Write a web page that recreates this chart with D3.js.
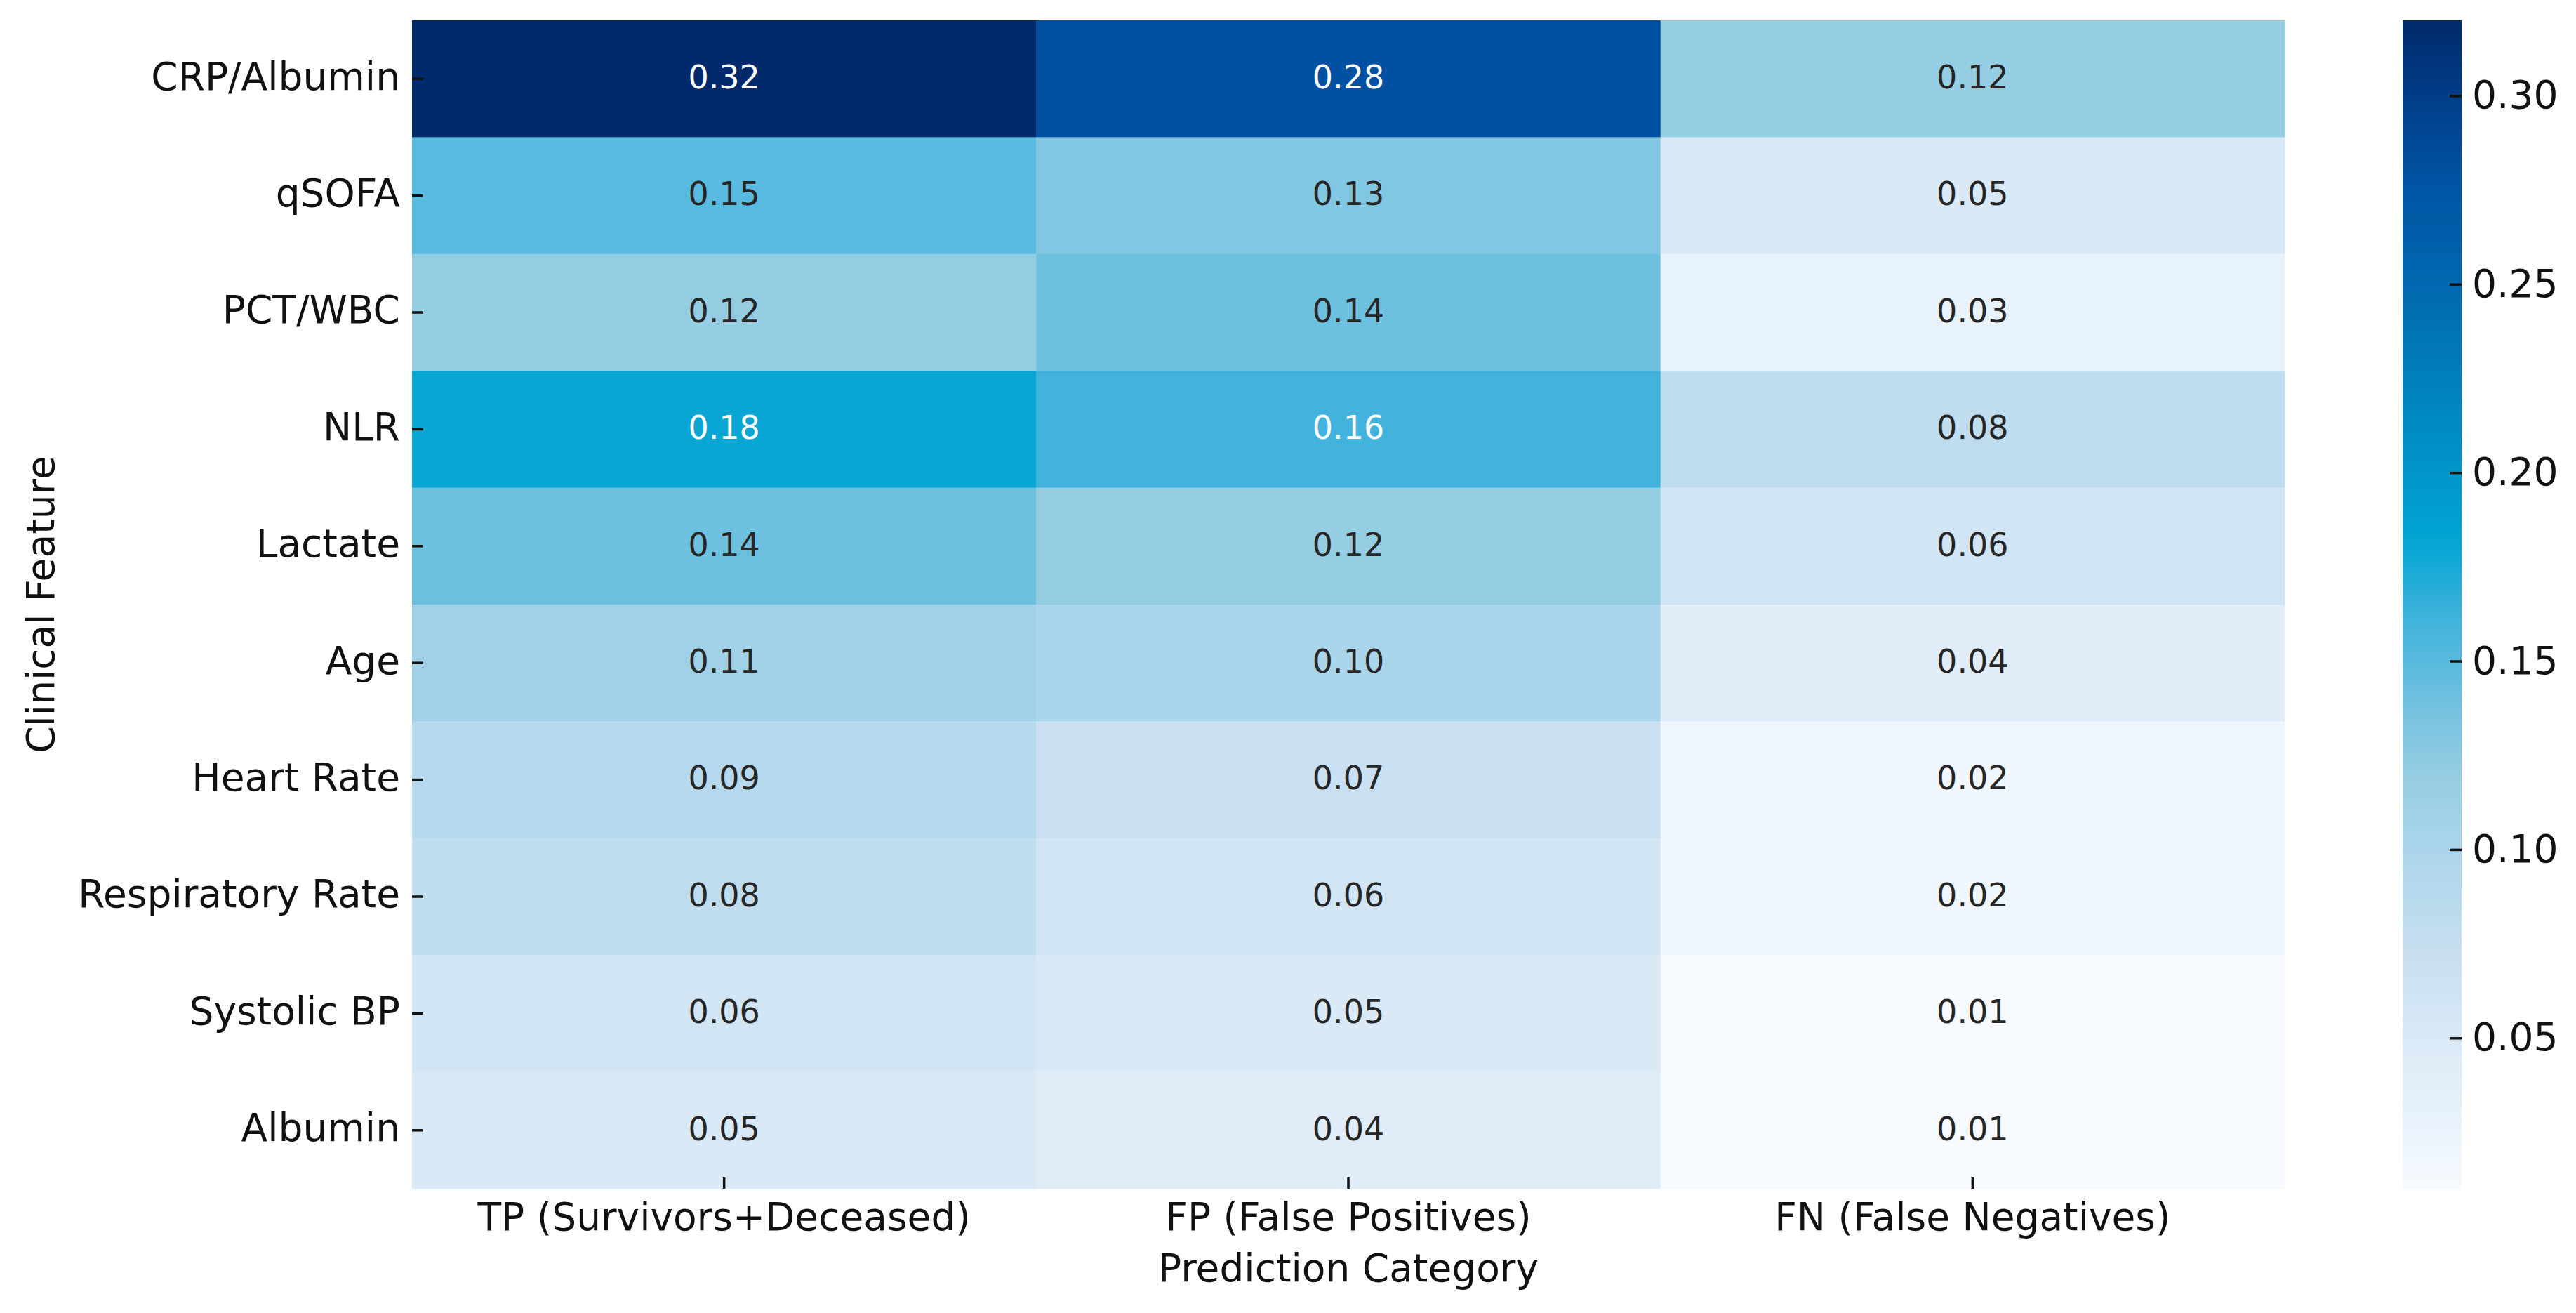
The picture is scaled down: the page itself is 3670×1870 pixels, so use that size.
<!DOCTYPE html>
<html>
<head>
<meta charset="utf-8">
<script src="https://cdn.jsdelivr.net/npm/d3@7"></script>
<style>
  body { margin: 0; background: #fff; }
  text { font-family: "DejaVu Sans", sans-serif; }
</style>
</head>
<body>
<svg id="chart" width="3670" height="1870"></svg>
<script>
// rows top to bottom, columns left to right
var features = ["CRP/Albumin", "qSOFA", "PCT/WBC", "NLR", "Lactate", "Age",
  "Heart Rate", "Respiratory Rate", "Systolic BP", "Albumin"]
var categories = ["TP (Survivors+Deceased)", "FP (False Positives)", "FN (False Negatives)"]
var tpValues = [0.32, 0.15, 0.12, 0.18, 0.14, 0.11, 0.09, 0.08, 0.06, 0.05]
var fpValues = [0.28, 0.13, 0.14, 0.16, 0.12, 0.10, 0.07, 0.06, 0.05, 0.04]
var fnValues = [0.12, 0.05, 0.03, 0.08, 0.06, 0.04, 0.02, 0.02, 0.01, 0.01]
var cbarTicks = [0.05, 0.10, 0.15, 0.20, 0.25, 0.30]

// colour map (value -> colour)
var cmapValues = [0.01, 0.05, 0.08, 0.10, 0.12, 0.14, 0.16, 0.183, 0.20, 0.25, 0.28, 0.32]
var cmapColors = ["#f6faff", "#d9e9f6", "#c0dcef", "#abd5ea", "#95cde3", "#6ec0df",
  "#42b3dc", "#00a4d3", "#0096c9", "#0068b0", "#0051a1", "#002a6c"]

var series = [tpValues, fpValues, fnValues]
var cells = []
features.forEach(function(f, i) {
  categories.forEach(function(c, j) {
    cells.push({feature: f, category: c, value: series[j][i]})
  })
})

var svg = d3.select("#chart")
// note: "top" is window.top, so use other names
var plotLeft = 587, plotRight = 3255, plotTop = 29, plotBottom = 1693

var x = d3.scaleBand().domain(categories).range([plotLeft, plotRight])
var y = d3.scaleBand().domain(features).range([plotTop, plotBottom])
var color = d3.scaleLinear().domain(cmapValues).range(cmapColors)
  .interpolate(d3.interpolateRgb).clamp(true)

// seaborn style: light text on dark cells
function textColor(c) {
  var rgb = d3.rgb(c)
  var lin = [rgb.r, rgb.g, rgb.b].map(function(v) {
    v = v / 255
    return v <= 0.03928 ? v / 12.92 : Math.pow((v + 0.055) / 1.055, 2.4)
  })
  var lum = 0.2126 * lin[0] + 0.7152 * lin[1] + 0.0722 * lin[2]
  return lum > 0.408 ? "#262626" : "#ffffff"
}

svg.append("g").selectAll("rect")
  .data(cells)
  .enter().append("rect")
  .attr("x", function(d) { return x(d.category) })
  .attr("y", function(d) { return y(d.feature) })
  .attr("width", x.bandwidth() + 0.5)
  .attr("height", y.bandwidth() + 0.5)
  .attr("fill", function(d) { return color(d.value) })

svg.append("g").selectAll("text")
  .data(cells)
  .enter().append("text")
  .attr("x", function(d) { return x(d.category) + x.bandwidth() / 2 })
  .attr("y", function(d) { return y(d.feature) + y.bandwidth() / 2 })
  .attr("dy", "0.3em")
  .attr("text-anchor", "middle")
  .attr("font-size", 46)
  .attr("fill", function(d) { return textColor(color(d.value)) })
  .text(function(d) { return d3.format(".2f")(d.value) })

function styleAxis(g) {
  g.select(".domain").remove()
  g.selectAll(".tick line").attr("stroke", "#111").attr("stroke-width", 3.5)
  g.selectAll(".tick text").attr("fill", "#111").attr("font-size", 55)
    .attr("font-family", "DejaVu Sans, sans-serif")
}

svg.append("g")
  .attr("transform", "translate(" + plotLeft + ",0)")
  .call(d3.axisLeft(y).tickSize(-16).tickPadding(17))
  .call(styleAxis)
  .selectAll(".tick text").attr("dy", "0.28em")

svg.append("g")
  .attr("transform", "translate(0," + plotBottom + ")")
  .call(d3.axisBottom(x).tickSize(-16).tickPadding(20))
  .call(styleAxis)

svg.append("text")
  .attr("x", (plotLeft + plotRight) / 2)
  .attr("y", 1825)
  .attr("text-anchor", "middle")
  .attr("font-size", 55)
  .attr("fill", "#111")
  .text("Prediction Category")

svg.append("text")
  .attr("transform", "translate(77," + (plotTop + plotBottom) / 2 + ") rotate(-90)")
  .attr("text-anchor", "middle")
  .attr("font-size", 55)
  .attr("fill", "#111")
  .text("Clinical Feature")

// colour bar
var cbLeft = 3423, cbRight = 3507
var cb = d3.scaleLinear().domain([0.01, 0.32]).range([plotBottom, plotTop])

var grad = svg.append("defs").append("linearGradient")
  .attr("id", "cbar").attr("x1", 0).attr("y1", 1).attr("x2", 0).attr("y2", 0)
d3.range(0, 1.0001, 0.01).forEach(function(t) {
  grad.append("stop")
    .attr("offset", t)
    .attr("stop-color", color(cb.domain()[0] + t * (cb.domain()[1] - cb.domain()[0])))
})

svg.append("rect")
  .attr("x", cbLeft).attr("y", plotTop)
  .attr("width", cbRight - cbLeft).attr("height", plotBottom - plotTop)
  .attr("fill", "url(#cbar)")

svg.append("g")
  .attr("transform", "translate(" + cbRight + ",0)")
  .call(d3.axisRight(cb).tickValues(cbarTicks).tickFormat(d3.format(".2f"))
    .tickSize(-17).tickPadding(15))
  .call(styleAxis)
</script>
</body>
</html>
